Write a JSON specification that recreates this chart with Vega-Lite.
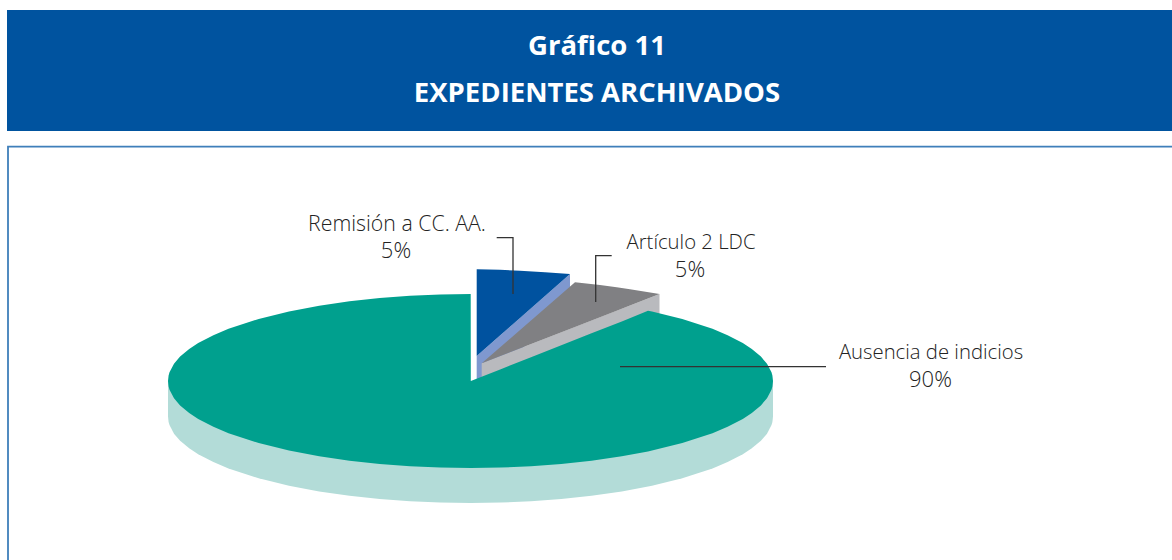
{
"$schema":"https://vega.github.io/schema/vega-lite/v6.json",
"width":1172,"height":560,"padding":0,
"autosize":"none",
"background":"white",
"config":{"view":{"stroke":null}},
"encoding":{
"x":{"field":"x","type":"quantitative","scale":{"domain":[0,1172],"nice":false,"zero":false},"axis":null},
"y":{"field":"y","type":"quantitative","scale":{"domain":[560,0],"nice":false,"zero":false},"axis":null}
},
"layer":[
{"data":{"values":[{"x":7,"x2":1172,"y":10,"y2":131}]},
"mark":{"type":"rect","fill":"#00539f"},
"encoding":{"x2":{"field":"x2"},"y2":{"field":"y2"}}},
{"data":{"values":[{"x":8,"y":560},{"x":8,"y":146.7},{"x":1172,"y":146.7}]},
"mark":{"type":"line","stroke":"#3f7fba","strokeWidth":1.8},
"encoding":{"order":{"field":"y","sort":"descending"}}},
{"data":{"values":[
{"x":168,"y":381,"y2":416.5},{"x":168.6,"y":381,"y2":422},{"x":169.5,"y":381,"y2":425.1},{"x":174,"y":381,"y2":433.7},{"x":180.1,"y":381,"y2":440.7},{"x":189.2,"y":381,"y2":448.3},{"x":198.2,"y":381,"y2":454.2},{"x":213.4,"y":381,"y2":462.1},{"x":228.5,"y":381,"y2":468.4},{"x":258.7,"y":381,"y2":478.3},{"x":289,"y":381,"y2":485.7},{"x":319.2,"y":381,"y2":491.4},{"x":349.5,"y":381,"y2":495.8},{"x":379.7,"y":381,"y2":499},{"x":410,"y":381,"y2":501.3},{"x":440.2,"y":381,"y2":502.6},{"x":470.5,"y":381,"y2":503},
{"x":500.8,"y":381,"y2":502.6},{"x":531,"y":381,"y2":501.3},{"x":561.3,"y":381,"y2":499},{"x":591.5,"y":381,"y2":495.8},{"x":621.8,"y":381,"y2":491.4},{"x":652,"y":381,"y2":485.7},{"x":682.3,"y":381,"y2":478.3},{"x":712.5,"y":381,"y2":468.4},{"x":727.6,"y":381,"y2":462.1},{"x":742.8,"y":381,"y2":454.2},{"x":751.8,"y":381,"y2":448.3},{"x":760.9,"y":381,"y2":440.7},{"x":767,"y":381,"y2":433.7},{"x":771.5,"y":381,"y2":425.1},{"x":772.4,"y":381,"y2":422},{"x":773,"y":381,"y2":416.5}
]},
"mark":{"type":"area","fill":"#b3dcd8"},"encoding":{"y2":{"field":"y2"}}},
{"data":{"values":[{"x":476.7,"y":356,"y2":395},{"x":570,"y":274,"y2":300}]},
"mark":{"type":"area","fill":"#7f98cf"},"encoding":{"y2":{"field":"y2"}}},
{"data":{"values":[{"x":476.7,"y":269.3,"y2":356},{"x":500,"y":269.8,"y2":335.5},{"x":520,"y":270.8,"y2":317.9},{"x":545,"y":272.3,"y2":296},{"x":570,"y":274,"y2":274}]},
"mark":{"type":"area","fill":"#00529f"},"encoding":{"y2":{"field":"y2"}}},
{"data":{"values":[{"x":481.7,"y":363.3,"y2":385},{"x":659.5,"y":294,"y2":330}]},
"mark":{"type":"area","fill":"#b9babe"},"encoding":{"y2":{"field":"y2"}}},
{"data":{"values":[{"x":481.7,"y":363.3,"y2":363.3},{"x":575,"y":282.3,"y2":327},{"x":600,"y":285,"y2":317.2},{"x":616.7,"y":287.3,"y2":310.7},{"x":630,"y":289.2,"y2":305.5},{"x":659.5,"y":294,"y2":294}]},
"mark":{"type":"area","fill":"#808083"},"encoding":{"y2":{"field":"y2"}}},
{"data":{"values":[
{"x":168,"y":381,"y2":381},{"x":168.6,"y":375.5,"y2":386.5},{"x":169.5,"y":372.3,"y2":389.7},{"x":174,"y":363.7,"y2":398.3},{"x":180.1,"y":356.6,"y2":405.4},{"x":189.2,"y":349,"y2":413},{"x":198.2,"y":343.1,"y2":418.9},{"x":213.4,"y":335.2,"y2":426.8},{"x":228.5,"y":328.8,"y2":433.2},{"x":258.7,"y":318.9,"y2":443.1},{"x":289,"y":311.4,"y2":450.6},{"x":319.2,"y":305.7,"y2":456.3},{"x":349.5,"y":301.3,"y2":460.7},{"x":379.7,"y":298,"y2":464},{"x":410,"y":295.8,"y2":466.2},{"x":440.2,"y":294.4,"y2":467.6},{"x":470.7,"y":294,"y2":468},
{"x":470.8,"y":381,"y2":468},{"x":500.8,"y":369.2,"y2":467.6},{"x":531,"y":357.3,"y2":466.2},{"x":561.3,"y":345.3,"y2":464},{"x":591.5,"y":333.3,"y2":460.7},{"x":621.8,"y":321.4,"y2":456.3},{"x":648,"y":310.8,"y2":451.4},{"x":652,"y":311.4,"y2":450.6},{"x":682.3,"y":318.9,"y2":443.1},{"x":712.5,"y":328.8,"y2":433.2},{"x":727.6,"y":335.2,"y2":426.8},{"x":742.8,"y":343.1,"y2":418.9},{"x":751.8,"y":349,"y2":413},{"x":760.9,"y":356.6,"y2":405.4},{"x":767,"y":363.7,"y2":398.3},{"x":771.5,"y":372.3,"y2":389.7},{"x":772.4,"y":375.5,"y2":386.5},{"x":773,"y":381,"y2":381}
]},
"mark":{"type":"area","fill":"#00a08e"},"encoding":{"y2":{"field":"y2"}}},
{"data":{"values":[
{"g":"a","i":1,"x":496.7,"y":237.7},{"g":"a","i":2,"x":513,"y":237.7},{"g":"a","i":3,"x":513,"y":294},
{"g":"b","i":1,"x":611.7,"y":255.7},{"g":"b","i":2,"x":595.7,"y":255.7},{"g":"b","i":3,"x":595.7,"y":302},
{"g":"c","i":1,"x":620,"y":366.7},{"g":"c","i":2,"x":826,"y":366.7}
]},
"mark":{"type":"line","stroke":"#333333","strokeWidth":1.3,"strokeJoin":"miter"},
"encoding":{"detail":{"field":"g"},"order":{"field":"i"}}},
{"data":{"values":[{"x":397,"y":231,"t":"Remisión a CC. AA."}]},
"mark":{"type":"text","font":"Open Sans","fontWeight":300,"fontSize":21.3,"fill":"#222222","align":"center","baseline":"alphabetic"},
"encoding":{"text":{"field":"t"}}},
{"data":{"values":[{"x":691,"y":249,"t":"Artículo 2 LDC"},{"x":931,"y":359,"t":"Ausencia de indicios"}]},
"mark":{"type":"text","font":"Open Sans","fontWeight":300,"fontSize":20.3,"fill":"#222222","align":"center","baseline":"alphabetic"},
"encoding":{"text":{"field":"t"}}},
{"data":{"values":[{"x":396,"y":258,"t":"5%"},{"x":690,"y":277,"t":"5%"},{"x":930.5,"y":387,"t":"90%"}]},
"mark":{"type":"text","font":"Open Sans","fontWeight":300,"fontSize":22,"fill":"#222222","align":"center","baseline":"alphabetic"},
"encoding":{"text":{"field":"t"}}},
{"data":{"values":[{"x":597,"y":55,"t":"Gráfico 11"},{"x":597,"y":102,"t":"EXPEDIENTES ARCHIVADOS"}]},
"mark":{"type":"text","font":"Open Sans","fontWeight":700,"fontSize":27.5,"fill":"white","align":"center","baseline":"alphabetic"},
"encoding":{"text":{"field":"t"}}}
]
}
